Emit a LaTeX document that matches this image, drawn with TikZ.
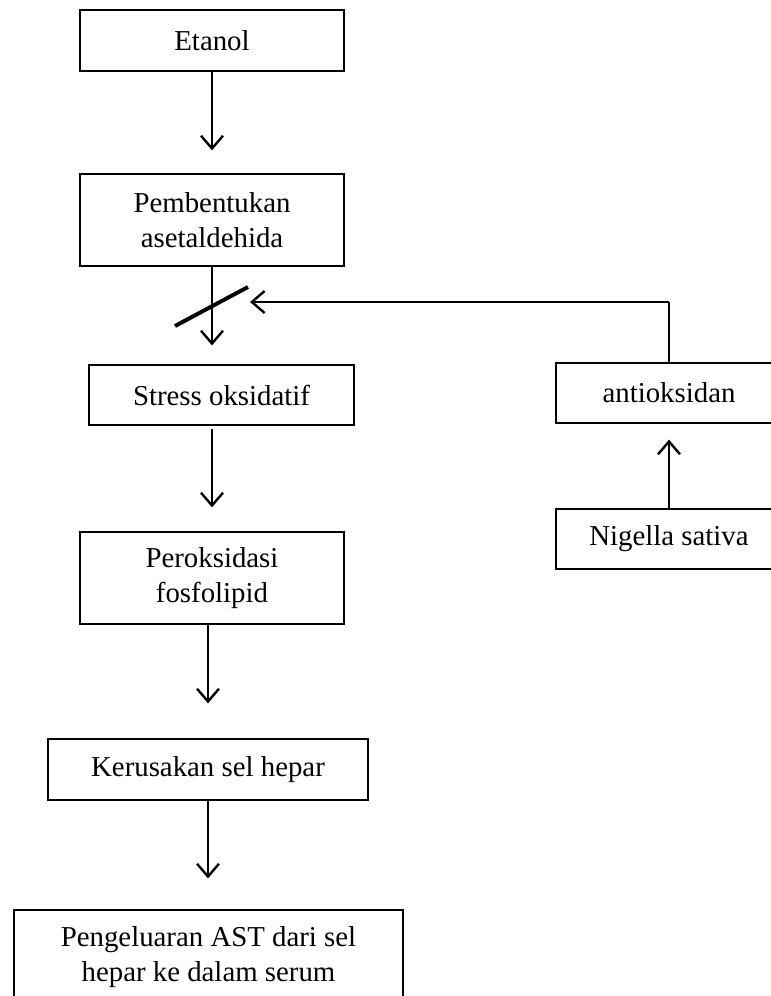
\documentclass[tikz,border=0pt]{standalone}
\usepackage{fontspec}
\setmainfont{Liberation Serif}
\usetikzlibrary{arrows.meta}

\begin{document}
\begin{tikzpicture}[x=0.025cm, y=-0.025cm,
  box/.style={draw, line width=0.9pt, minimum width=6.6cm, minimum height=1.525cm,
    align=center, inner sep=0pt, font=\fontsize{20.5}{25}\selectfont},
  flow/.style={-{Straight Barb[length=0.32cm,width=0.55cm]}, line width=1.7pt}]

\clip (0,0) rectangle (771,996);

\node[box] (etanol) at (212,40.5) {Etanol};
\node[box, minimum height=2.3cm] (asetal) at (212,220) {Pembentukan\\asetaldehida};
\node[box, minimum width=6.625cm, minimum height=1.5cm] (stress) at (221.5,395) {Stress oksidatif};
\node[box, minimum height=2.3cm] (perok) at (212,578) {Peroksidasi\\fosfolipid};
\node[box, minimum width=8cm] (rusak) at (208,769.5) {Kerusakan sel hepar};
\node[box, minimum width=9.725cm, minimum height=2.35cm] (ast) at (208.5,957) {Pengeluaran AST dari sel\\hepar ke dalam serum};

\node[box, minimum width=5.65cm, minimum height=1.5cm] (antiok) at (669,393) {antioksidan};
\node[box, minimum width=5.65cm, minimum height=1.5cm] (nigella) at (669,539) {Nigella sativa};

\draw[flow, shorten >=0.575cm] (etanol) -- (asetal);
\draw[flow, shorten >=0.475cm] (asetal.south) -- (asetal.south |- stress.north);
\draw[flow, shorten <=0.075cm, shorten >=0.6cm] (perok.north |- stress.south) -- (perok.north);
\draw[flow, shorten >=0.875cm] (rusak.north |- perok.south) -- (rusak.north);
\draw[flow, shorten >=0.775cm] (rusak.south) -- (rusak.south |- ast.north);
\draw[flow, shorten >=0.4cm] (nigella) -- (antiok);

% hambatan oleh antioksidan
\coordinate (bend) at (669,302);
\coordinate (stop) at (250,302);
\coordinate (hit) at (211.5,306.5);
\draw[line width=1.1pt] (antiok.north) -- (bend);
\draw[flow] (bend) -- (stop);
\draw[line width=2.8pt] ([shift={(-36.5,19.5)}]hit) -- ([shift={(36.5,-19.5)}]hit);

\end{tikzpicture}
\end{document}
